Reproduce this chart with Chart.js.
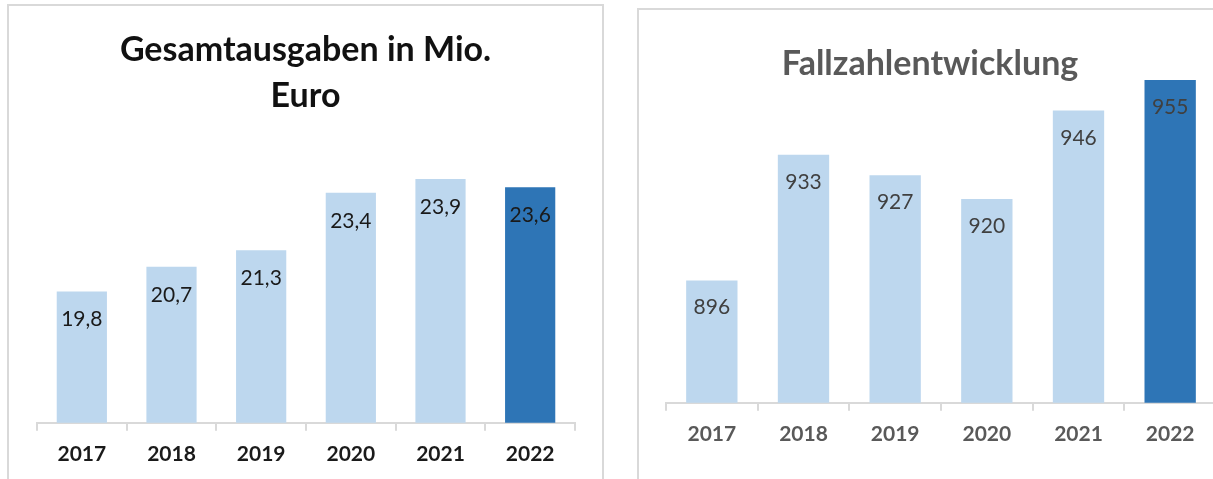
<!DOCTYPE html>
<html>
<head>
<meta charset="utf-8">
<script src="https://cdn.jsdelivr.net/npm/chart.js@4.4.1/dist/chart.umd.min.js"></script>
<style>
  html, body { margin: 0; padding: 0; background: #fff; overflow: hidden; width: 1213px; height: 479px; }
  .panel { position: absolute; border: 2px solid #d9d9d9; background: #fff; }
  #leftPanel { left: 7px; top: 4px; width: 593px; height: 500px; }
  #rightPanel { left: 637px; top: 8px; width: 600px; height: 500px; }
  canvas { display: block; }
</style>
</head>
<body>
<div class="panel" id="leftPanel"><canvas id="costChart" width="593" height="475"></canvas></div>
<div class="panel" id="rightPanel"><canvas id="casesChart" width="600" height="470"></canvas></div>
<script>
// data
const years = ["2017", "2018", "2019", "2020", "2021", "2022"];
const spending = [19.8, 20.7, 21.3, 23.4, 23.9, 23.6];   // Gesamtausgaben in Mio. Euro
const cases = [896, 933, 927, 920, 946, 955];            // Fallzahlen
const barColors = ["#bdd7ee", "#bdd7ee", "#bdd7ee", "#bdd7ee", "#bdd7ee", "#2e75b6"];

// draws the value inside the top of each bar
const valueLabels = {
    id: "valueLabels",
    afterDatasetsDraw(chart, args, opts) {
        const ctx = chart.ctx;
        const ds = chart.data.datasets[0];
        ctx.save();
        ctx.font = opts.font;
        ctx.fillStyle = opts.color;
        ctx.textAlign = "center";
        ctx.textBaseline = "alphabetic";
        chart.getDatasetMeta(0).data.forEach((bar, i) => {
            ctx.fillText(opts.format(ds.data[i]), bar.x, bar.y + opts.offset);
        });
        ctx.restore();
    }
};

// title drawn freely so the plot area can reach up beside it (like in Excel)
const freeTitle = {
    id: "freeTitle",
    afterDraw(chart, args, opts) {
        const ctx = chart.ctx;
        ctx.save();
        ctx.font = opts.font;
        ctx.fillStyle = opts.color;
        ctx.textAlign = "center";
        ctx.textBaseline = "alphabetic";
        const x = opts.x != null ? opts.x : chart.width / 2;
        opts.lines.forEach((line, i) => {
            ctx.fillText(line, x, opts.y + i * opts.lineHeight);
        });
        ctx.restore();
    }
};

function xAxis(color) {
    return {
        grid: {
            offset: true,
            drawOnChartArea: false,
            drawTicks: true,
            tickLength: 8,
            color: "#d9d9d9",
            lineWidth: 2
        },
        border: { color: "#d9d9d9", width: 2 },
        ticks: {
            color: color,
            padding: 11,
            font: { family: "Lato", weight: "bold", size: 21 }
        }
    };
}

new Chart(document.getElementById("costChart"), {
    type: "bar",
    data: {
        labels: years,
        datasets: [{
            data: spending,
            backgroundColor: barColors,
            barPercentage: 0.56,
            categoryPercentage: 1
        }]
    },
    options: {
        responsive: false,
        animation: false,
        layout: { padding: { left: 28, right: 27, top: 143, bottom: 3 } },
        plugins: {
            legend: { display: false },
            tooltip: { enabled: false },
            valueLabels: {
                font: "21px Lato",
                color: "#1a1a1a",
                offset: 35,
                format: v => v.toFixed(1).replace(".", ",")
            },
            freeTitle: {
                lines: ["Gesamtausgaben in Mio.", "Euro"],
                font: "bold 34px Lato",
                color: "#111111",
                y: 55,
                lineHeight: 46
            }
        },
        scales: {
            x: xAxis("#1a1a1a"),
            y: { display: false, min: 15, max: 25 }
        }
    },
    plugins: [valueLabels, freeTitle]
});

new Chart(document.getElementById("casesChart"), {
    type: "bar",
    data: {
        labels: years,
        datasets: [{
            data: cases,
            backgroundColor: barColors,
            barPercentage: 0.56,
            categoryPercentage: 1
        }]
    },
    options: {
        responsive: false,
        animation: false,
        layout: { padding: { left: 27, right: 23, top: 53, bottom: 22 } },
        plugins: {
            legend: { display: false },
            tooltip: { enabled: false },
            valueLabels: {
                font: "21px Lato",
                color: "#404040",
                offset: 34,
                format: v => String(v)
            },
            freeTitle: {
                lines: ["Fallzahlentwicklung"],
                font: "bold 34px Lato",
                color: "#595959",
                x: 291,
                y: 65,
                lineHeight: 46
            }
        },
        scales: {
            x: xAxis("#595959"),
            y: { display: false, min: 860, max: 960 }
        }
    },
    plugins: [valueLabels, freeTitle]
});
</script>
</body>
</html>
